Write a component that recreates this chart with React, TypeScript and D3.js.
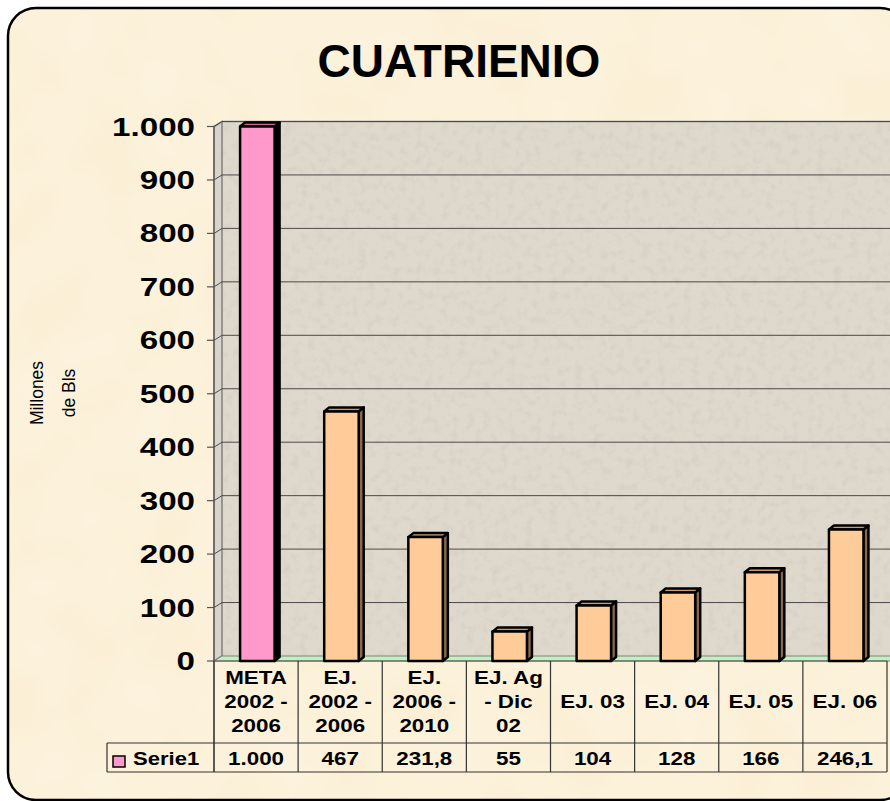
import React from "react";
import * as d3 from "d3";

const categories = [
  "META\n2002 -\n2006",
  "EJ.\n2002 -\n2006",
  "EJ.\n2006 -\n2010",
  "EJ. Ag\n- Dic\n02",
  "EJ. 03",
  "EJ. 04",
  "EJ. 05",
  "EJ. 06",
];
const values = [1000, 467, 231.8, 55, 104, 128, 166, 246.1];
const valueLabels = ["1.000", "467", "231,8", "55", "104", "128", "166", "246,1"];
const yTicks = [0, 100, 200, 300, 400, 500, 600, 700, 800, 900, 1000];
const yTickLabels = ["0", "100", "200", "300", "400", "500", "600", "700", "800", "900", "1.000"];
const seriesName = "Serie1";
const title = "CUATRIENIO";

const FONT = "'Liberation Sans', Arial, sans-serif";

function WideText(props: { x: number; y: number; sx: number; size: number; anchor?: string; children: React.ReactNode; weight?: string }) {
  const { x, y, sx, size, anchor = "start", children, weight = "bold" } = props;
  return (
    <text
      transform={`translate(${x},${y}) scale(${sx},1)`}
      x={0}
      y={0}
      textAnchor={anchor}
      fontFamily={FONT}
      fontWeight={weight}
      fontSize={size}
      fill="#000"
    >
      {children}
    </text>
  );
}

export default function App() {
  const W = 890, H = 801;
  const axisX = 214, tableRight = 887;
  const baseY = 661, topY = 126.5;
  const dx = 8, dy = 5; // wall depth
  const bdx = 5, bdy = 4; // bar depth
  const x = d3.scaleBand<number>().domain(d3.range(categories.length)).range([axisX, tableRight]).padding(0);
  const y = d3.scaleLinear().domain([0, 1000]).range([baseY, topY]);
  const bw = x.bandwidth();
  const barW = bw * 0.41;
  const barOff = bw * 0.31;
  const rowTop = 743, rowBot = 772;
  const legendLeft = 107;

  return (
    <svg width={W} height={H} style={{ position: "absolute", left: 0, top: 0 }}>
      <defs>
        <filter id="speck" x="0" y="0" width="100%" height="100%">
          <feTurbulence type="fractalNoise" baseFrequency="0.12" numOctaves="3" seed="4" />
          <feColorMatrix type="matrix" values="0 0 0 0 0.5  0 0 0 0 0.47  0 0 0 0 0.42  0 0 0 0.6 -0.28" />
        </filter>
        <filter id="paper" x="0" y="0" width="100%" height="100%">
          <feTurbulence type="fractalNoise" baseFrequency="0.015" numOctaves="2" seed="2" />
          <feColorMatrix type="matrix" values="0 0 0 0 1  0 0 0 0 0.97  0 0 0 0 0.9  0 0 0 0.5 -0.1" />
        </filter>
        <clipPath id="frame">
          <rect x={8} y={8} width={900} height={792} rx={28} ry={28} />
        </clipPath>
      </defs>
      <rect x={0} y={0} width={W} height={H} fill="#ffffff" />
      <g clipPath="url(#frame)">
        <rect x={8} y={8} width={900} height={792} fill="#FBEFD5" />
        <rect x={8} y={8} width={900} height={792} filter="url(#paper)" />
      </g>
      <rect x={8} y={8} width={900} height={792} rx={28} ry={28} fill="none" stroke="#000" strokeWidth={2.5} />

      {/* Title */}
      <text x={459} y={77} textAnchor="middle" fontFamily={FONT} fontWeight="bold" fontSize={46} fill="#000">
        {title}
      </text>

      {/* Walls */}
      <rect x={axisX + dx} y={topY - dy} width={W - axisX} height={baseY - topY} fill="#DFD8CD" />
      <rect x={axisX + dx} y={topY - dy} width={W - axisX} height={baseY - topY} filter="url(#speck)" />
      <polygon
        points={`${axisX},${topY} ${axisX + dx},${topY - dy} ${axisX + dx},${baseY - dy} ${axisX},${baseY}`}
        fill="#D9D3C9" stroke="#808080" strokeWidth={1.5}
      />
      <polygon
        points={`${axisX},${baseY} ${axisX + dx},${baseY - dy} ${W + 5},${baseY - dy} ${W + 5},${baseY}`}
        fill="#BFF2BF" stroke="#808080" strokeWidth={1}
      />
      <line x1={axisX + dx} x2={W} y1={topY - dy} y2={topY - dy} stroke="#808080" strokeWidth={1.5} />

      {/* Gridlines */}
      {yTicks.slice(1).map((t) => (
        <g key={t}>
          <line x1={axisX + dx} x2={W} y1={y(t) - dy} y2={y(t) - dy} stroke="#4a4a4a" strokeWidth={1} />
          <line x1={axisX} x2={axisX + dx} y1={y(t)} y2={y(t) - dy} stroke="#4a4a4a" strokeWidth={1} />
        </g>
      ))}

      {/* Y axis */}
      <line x1={axisX} x2={axisX} y1={topY} y2={rowBot} stroke="#555" strokeWidth={1.2} />
      {yTicks.map((t, i) => (
        <g key={t}>
          <line x1={axisX - 7} x2={axisX} y1={y(t)} y2={y(t)} stroke="#555" strokeWidth={1.2} />
          <WideText x={195} y={y(t) + 9} sx={1.3} size={25.5} anchor="end">
            {yTickLabels[i]}
          </WideText>
        </g>
      ))}
      <line x1={axisX} x2={tableRight} y1={baseY} y2={baseY} stroke="#555" strokeWidth={1.2} />

      {/* Y title */}
      <text transform={`translate(43,393) rotate(-90)`} textAnchor="middle" fontFamily={FONT} fontSize={17.5} fill="#000">
        Millones
      </text>
      <text transform={`translate(75,393) rotate(-90)`} textAnchor="middle" fontFamily={FONT} fontSize={17.5} fill="#000">
        de Bls
      </text>

      {/* Bars */}
      {values.map((v, i) => {
        const x0 = (x(i) as number) + barOff;
        const y0 = y(v);
        const isMeta = i === 0;
        const front = isMeta ? "#FF99CC" : "#FFCC99";
        const side = isMeta ? "#000" : "#8C6A48";
        const top = isMeta ? "#CC6699" : "#C89E70";
        return (
          <g key={i} stroke="#000" strokeWidth={2.5} strokeLinejoin="round">
            <polygon points={`${x0 + barW},${y0} ${x0 + barW + bdx},${y0 - bdy} ${x0 + barW + bdx},${baseY - bdy} ${x0 + barW},${baseY}`} fill={side} />
            <polygon points={`${x0},${y0} ${x0 + bdx},${y0 - bdy} ${x0 + barW + bdx},${y0 - bdy} ${x0 + barW},${y0}`} fill={top} />
            <rect x={x0} y={y0} width={barW} height={baseY - y0} fill={front} />
          </g>
        );
      })}

      {/* Data table */}
      <g stroke="#333" strokeWidth={1.2}>
        {d3.range(categories.length + 1).map((i) => {
          const xx = i === categories.length ? tableRight : (x(i) as number);
          return <line key={i} x1={xx} x2={xx} y1={baseY} y2={rowBot} />;
        })}
        <line x1={legendLeft} x2={tableRight} y1={rowTop} y2={rowTop} />
        <line x1={legendLeft} x2={tableRight} y1={rowBot} y2={rowBot} />
        <line x1={legendLeft} x2={legendLeft} y1={rowTop} y2={rowBot} />
      </g>
      {categories.map((c, i) => {
        const lines = c.split("\n");
        const cx = (x(i) as number) + bw / 2;
        return (
          <g key={i}>
            {lines.map((ln, j) => (
              <WideText key={j} x={cx} y={708 + (j - (lines.length - 1) / 2) * 24} sx={1.28} size={17.5} anchor="middle">
                {ln}
              </WideText>
            ))}
            <WideText x={cx} y={765} sx={1.28} size={17.5} anchor="middle">
              {valueLabels[i]}
            </WideText>
          </g>
        );
      })}
      <rect x={113} y={756} width={12} height={11} fill="#FF99CC" stroke="#000" strokeWidth={1.5} />
      <WideText x={133} y={765} sx={1.26} size={17.5}>
        {seriesName}
      </WideText>
    </svg>
  );
}
